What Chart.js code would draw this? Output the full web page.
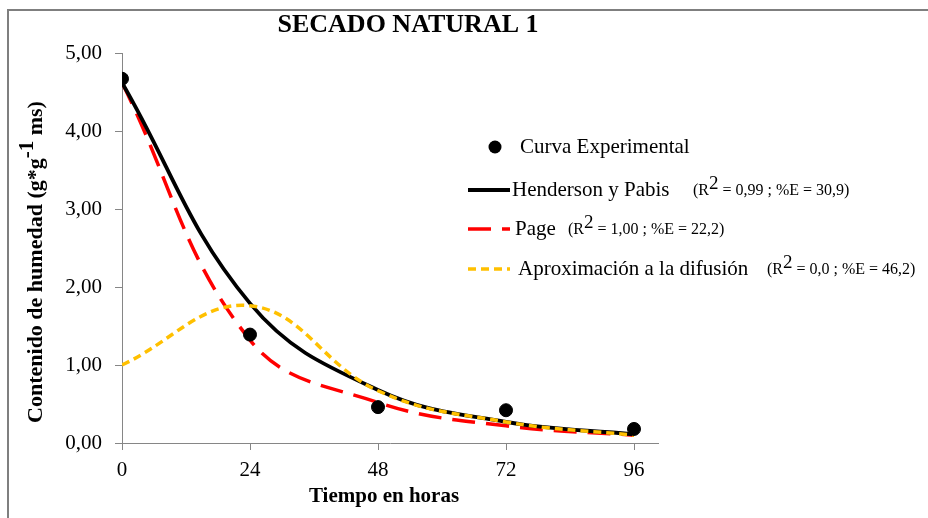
<!DOCTYPE html>
<html>
<head>
<meta charset="utf-8">
<script src="https://cdn.jsdelivr.net/npm/chart.js@4.4.1/dist/chart.umd.min.js"></script>
<style>
  html, body { margin: 0; padding: 0; background: #fff; }
  #wrap { width: 928px; height: 518px; }
</style>
</head>
<body>
<div id="wrap"><canvas id="secadoChart" width="928" height="518"></canvas></div>
<script>
// Datos (tiempo en horas)
const horas = [0, 24, 48, 72, 96];
const xTicks = [0, 24, 48, 72, 96];
const experimental = [4.67, 1.39, 0.46, 0.42, 0.18];
const henderson = [4.62, 1.79, 0.68, 0.27, 0.11];
const page = [4.62, 1.32, 0.52, 0.22, 0.10];
const difusion = [1.00, 1.76, 0.67, 0.27, 0.10];

const SERIF = '"Liberation Serif", "Times New Roman", serif';
const AXIS_GRAY = '#868686';

function toPoints(values) {
  return horas.map((h, i) => ({ x: h, y: values[i] }));
}

function formatComa(v) {
  return v.toFixed(2).replace('.', ',');
}

// dibuja un texto en trozos (para los superíndices)
function drawParts(ctx, x, y, parts) {
  parts.forEach(p => {
    ctx.font = (p.bold ? 'bold ' : '') + p.size + 'px ' + SERIF;
    ctx.fillText(p.t, x, y + (p.dy || 0));
    x += ctx.measureText(p.t).width;
  });
}

function partsWidth(ctx, parts) {
  let w = 0;
  parts.forEach(p => {
    ctx.font = (p.bold ? 'bold ' : '') + p.size + 'px ' + SERIF;
    w += ctx.measureText(p.t).width;
  });
  return w;
}

function statsParts(r2, err) {
  return [
    { t: '(R', size: 16 },
    { t: '2', size: 19, dy: -7 },
    { t: ' = ' + r2 + ' ; %E = ' + err + ')', size: 16 }
  ];
}

// leyenda dentro del área del gráfico
const legendRows = [
  { ds: 0, y: 147, textX: 520, label: 'Curva Experimental' },
  { ds: 2, y: 190, textX: 512, label: 'Henderson y Pabis', statsX: 693, r2: '0,99', err: '30,9' },
  { ds: 3, y: 229, textX: 515, label: 'Page', statsX: 568, r2: '1,00', err: '22,2' },
  { ds: 1, y: 269, textX: 518, label: 'Aproximación a la difusión', statsX: 767, r2: '0,0', err: '46,2' }
];

const textosPlugin = {
  id: 'textos',
  beforeDraw(chart) {
    const ctx = chart.ctx;
    ctx.save();
    ctx.strokeStyle = '#7f7f7f';
    ctx.lineWidth = 2;
    ctx.beginPath();
    ctx.moveTo(8, 518);
    ctx.lineTo(8, 10);
    ctx.lineTo(928, 10);
    ctx.stroke();
    ctx.restore();
  },
  afterDraw(chart) {
    const ctx = chart.ctx;
    ctx.save();
    ctx.fillStyle = '#000';
    ctx.textBaseline = 'middle';

    // título
    ctx.textAlign = 'center';
    ctx.font = 'bold 26px ' + SERIF;
    ctx.fillText('SECADO NATURAL 1', 408, 25);

    // título eje x
    ctx.font = 'bold 21px ' + SERIF;
    ctx.fillText('Tiempo en horas', 384, 497);

    // título eje y con superíndice
    ctx.textAlign = 'left';
    const yParts = [
      { t: 'Contenido de humedad (g*g', size: 22, bold: true },
      { t: '-1', size: 21, bold: true, dy: -8 },
      { t: ' ms)', size: 22, bold: true }
    ];
    ctx.save();
    ctx.translate(36, 262);
    ctx.rotate(-Math.PI / 2);
    drawParts(ctx, -partsWidth(ctx, yParts) / 2, 0, yParts);
    ctx.restore();

    // leyenda
    legendRows.forEach(row => {
      const ds = chart.data.datasets[row.ds];
      ctx.save();
      if (ds.showLine === false) {
        ctx.fillStyle = ds.backgroundColor;
        ctx.beginPath();
        ctx.arc(495, row.y, ds.pointRadius, 0, Math.PI * 2);
        ctx.fill();
      } else {
        ctx.strokeStyle = ds.borderColor;
        ctx.lineWidth = ds.borderWidth;
        ctx.setLineDash(ds.borderDash || []);
        ctx.beginPath();
        ctx.moveTo(468, row.y);
        ctx.lineTo(510, row.y);
        ctx.stroke();
      }
      ctx.restore();
      ctx.font = '21px ' + SERIF;
      ctx.fillText(row.label, row.textX, row.y);
      if (row.statsX) {
        drawParts(ctx, row.statsX, row.y + 1, statsParts(row.r2, row.err));
      }
    });
    ctx.restore();
  }
};

new Chart(document.getElementById('secadoChart'), {
  type: 'line',
  data: {
    datasets: [
      {
        label: 'Curva Experimental',
        data: toPoints(experimental),
        showLine: false,
        pointRadius: 6.5,
        pointHoverRadius: 6.5,
        backgroundColor: '#000',
        borderColor: '#000'
      },
      {
        label: 'Aproximación a la difusión',
        data: toPoints(difusion),
        borderColor: '#FFC000',
        borderWidth: 3.5,
        borderDash: [8, 5],
        pointRadius: 0,
        tension: 0.4
      },
      {
        label: 'Henderson y Pabis',
        data: toPoints(henderson),
        borderColor: '#000',
        borderWidth: 3.8,
        pointRadius: 0,
        tension: 0.4
      },
      {
        label: 'Page',
        data: toPoints(page),
        borderColor: '#FF0000',
        borderWidth: 3.5,
        borderDash: [23, 11],
        pointRadius: 0,
        tension: 0.4
      }
    ]
  },
  options: {
    responsive: false,
    animation: false,
    devicePixelRatio: 1,
    layout: { padding: { top: 53, right: 270, left: 0, bottom: 0 } },
    plugins: {
      legend: { display: false },
      tooltip: { enabled: false }
    },
    scales: {
      x: {
        type: 'linear',
        min: 0,
        max: 100.5,
        afterBuildTicks: scale => { scale.ticks = xTicks.map(v => ({ value: v })); },
        afterFit: scale => { scale.height = 75; },
        grid: { drawOnChartArea: false, drawTicks: true, tickLength: 7, color: AXIS_GRAY },
        border: { display: true, color: AXIS_GRAY, width: 1 },
        ticks: { color: '#000', padding: 8, maxRotation: 0, font: { family: SERIF, size: 21 } }
      },
      y: {
        min: 0,
        max: 5,
        afterFit: scale => { scale.width = 122; },
        grid: { drawOnChartArea: false, drawTicks: true, tickLength: 7, color: AXIS_GRAY },
        border: { display: true, color: AXIS_GRAY, width: 1 },
        ticks: { stepSize: 1, color: '#000', padding: 13, font: { family: SERIF, size: 21 }, callback: v => formatComa(v) }
      }
    }
  },
  plugins: [textosPlugin]
});
</script>
</body>
</html>
